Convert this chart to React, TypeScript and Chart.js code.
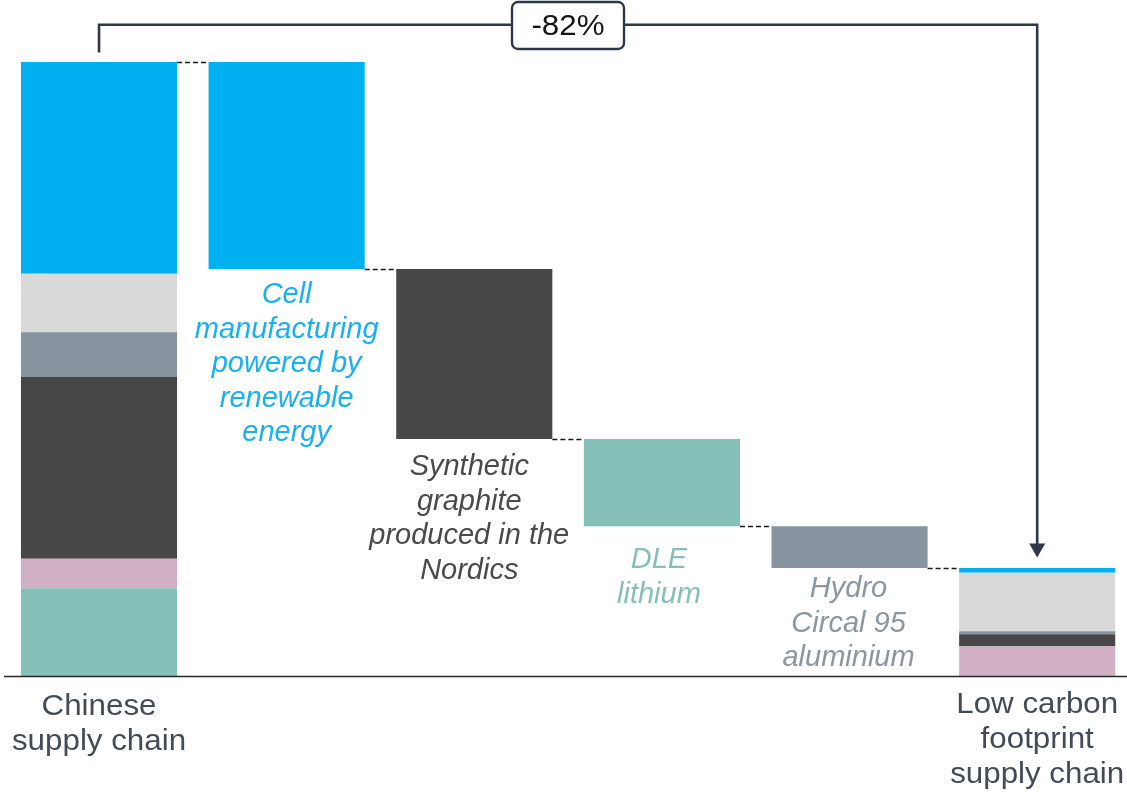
import React, { useEffect, useRef } from "react";
import { Chart, registerables } from "chart.js";

Chart.register(...registerables);

// ---- Data ----
const categories = [
  "Chinese supply chain",
  "Cell manufacturing powered by renewable energy",
  "Synthetic graphite produced in the Nordics",
  "DLE lithium",
  "Hydro Circal 95 aluminium",
  "Low carbon footprint supply chain",
];

const components = [
  "Lithium",
  "Other materials",
  "Graphite",
  "Aluminium",
  "Other components",
  "Cell manufacturing",
];

const componentColors = ["#84BFB8", "#D1AFC4", "#474747", "#87939F", "#D9D9D9", "#00B0F0"];

// stacked from bottom to top (share of Chinese supply chain footprint, %)
const chineseStack = [14.3, 4.8, 29.6, 7.3, 9.5, 34.5];
const lowCarbonStack = [0.1, 4.8, 1.9, 0.5, 9.5, 0.8];

// waterfall steps: component index reduced and reduction amount
const stepComponent = [5, 2, 0, 3];
const stepReduction = [33.7, 27.7, 14.2, 6.8];

const categoryLabelLines = [
  ["Chinese", "supply chain"],
  [],
  [],
  [],
  [],
  ["Low carbon", "footprint", "supply chain"],
];

const stepLabelLines = [
  ["Cell", "manufacturing", "powered by", "renewable", "energy"],
  ["Synthetic", "graphite", "produced in the", "Nordics"],
  ["DLE", "lithium"],
  ["Hydro", "Circal 95", "aluminium"],
];

const stepLabelColors = ["#1AAFEE", "#4A4A4A", "#86BFB8", "#8A96A1"];

const changeLabel = "-82%";

const Y_MAX = 110.1;

// ---- Build datasets ----
function buildDatasets() {
  const n = categories.length;
  const datasets = components.map((name, i) => ({
    label: name,
    data: new Array(n).fill(null) as any[],
    backgroundColor: componentColors[i],
    borderWidth: 0,
    grouped: false,
    categoryPercentage: 1,
    barPercentage: 0.832,
  }));
  let cum = 0;
  chineseStack.forEach((v, i) => {
    datasets[i].data[0] = [cum, cum + v];
    cum += v;
  });
  let running = cum;
  stepComponent.forEach((ci, k) => {
    datasets[ci].data[k + 1] = [running - stepReduction[k], running];
    running -= stepReduction[k];
  });
  let cum2 = 0;
  lowCarbonStack.forEach((v, i) => {
    datasets[i].data[n - 1] = [cum2, cum2 + v];
    cum2 += v;
  });
  return datasets;
}

function levels() {
  const total = chineseStack.reduce((a, b) => a + b, 0);
  const lv = [total];
  let r = total;
  stepReduction.forEach((s) => {
    r -= s;
    lv.push(r);
  });
  return lv;
}

const FONT = '"Liberation Sans", Arial, Helvetica, sans-serif';

const overlayPlugin = {
  id: "overlay",
  afterDraw(chart: any) {
    const ctx: CanvasRenderingContext2D = chart.ctx;
    const xs = chart.scales.x;
    const ys = chart.scales.y;
    const meta = chart.getDatasetMeta(0);
    const barW = meta.data[0] ? meta.data[0].width : 156;
    const lv = levels();
    const n = categories.length;

    ctx.save();

    // baseline
    ctx.strokeStyle = "#262626";
    ctx.lineWidth = 1.5;
    ctx.beginPath();
    ctx.moveTo(4, ys.getPixelForValue(0) + 0.5);
    ctx.lineTo(chart.width, ys.getPixelForValue(0) + 0.5);
    ctx.stroke();

    // dashed connectors
    ctx.strokeStyle = "#1a1a1a";
    ctx.lineWidth = 1.4;
    ctx.setLineDash([5, 3]);
    for (let j = 0; j < n - 1; j++) {
      const y = Math.round(ys.getPixelForValue(lv[j])) + 0.5;
      const x1 = xs.getPixelForValue(j) + barW / 2;
      const x2 = xs.getPixelForValue(j + 1) - barW / 2;
      ctx.beginPath();
      ctx.moveTo(x1, y);
      ctx.lineTo(x2, y);
      ctx.stroke();
    }
    ctx.setLineDash([]);

    // step labels (italic)
    const gaps = [34, 36, 42, 29];
    const dx = [0, -5, -3, -1];
    ctx.font = `italic 29px ${FONT}`;
    ctx.textAlign = "center";
    ctx.textBaseline = "alphabetic";
    stepLabelLines.forEach((lines, k) => {
      const cx = xs.getPixelForValue(k + 1) + dx[k];
      const yb = ys.getPixelForValue(lv[k + 1]) + gaps[k];
      ctx.fillStyle = stepLabelColors[k];
      lines.forEach((t, li) => ctx.fillText(t, cx, yb + li * 34.6));
    });

    // category labels (upright)
    const catBase = [715, 0, 0, 0, 0, 713];
    ctx.font = `29px ${FONT}`;
    ctx.fillStyle = "#434C56";
    categoryLabelLines.forEach((lines, j) => {
      const cx = xs.getPixelForValue(j);
      lines.forEach((t, li) => {
        ctx.save();
        ctx.translate(cx, catBase[j] + li * 35);
        ctx.scale(1.08, 1);
        ctx.fillText(t, 0, 0);
        ctx.restore();
      });
    });

    // bracket
    const xa = xs.getPixelForValue(0);
    const xb = xs.getPixelForValue(n - 1);
    const topY = 24.7;
    const endTotal = lowCarbonStack.reduce((a, b) => a + b, 0);
    const tipY = ys.getPixelForValue(endTotal) - 10.5;
    ctx.strokeStyle = "#2E3849";
    ctx.fillStyle = "#2E3849";
    ctx.lineWidth = 2.6;
    ctx.lineJoin = "miter";
    ctx.beginPath();
    ctx.moveTo(xa, ys.getPixelForValue(lv[0]) - 9.5);
    ctx.lineTo(xa, topY);
    ctx.lineTo(xb, topY);
    ctx.lineTo(xb, tipY - 12);
    ctx.stroke();
    ctx.beginPath();
    ctx.moveTo(xb - 8, tipY - 14);
    ctx.lineTo(xb + 8, tipY - 14);
    ctx.lineTo(xb, tipY);
    ctx.closePath();
    ctx.fill();

    // change box
    const bx = 512, by = 2, bw = 112, bh = 47, r = 6;
    ctx.beginPath();
    ctx.moveTo(bx + r, by);
    ctx.lineTo(bx + bw - r, by);
    ctx.arcTo(bx + bw, by, bx + bw, by + r, r);
    ctx.lineTo(bx + bw, by + bh - r);
    ctx.arcTo(bx + bw, by + bh, bx + bw - r, by + bh, r);
    ctx.lineTo(bx + r, by + bh);
    ctx.arcTo(bx, by + bh, bx, by + bh - r, r);
    ctx.lineTo(bx, by + r);
    ctx.arcTo(bx, by, bx + r, by, r);
    ctx.closePath();
    ctx.fillStyle = "#FFFFFF";
    ctx.fill();
    ctx.lineWidth = 2.4;
    ctx.strokeStyle = "#2E3849";
    ctx.stroke();

    ctx.fillStyle = "#151515";
    ctx.font = `29px ${FONT}`;
    ctx.save();
    ctx.translate(bx + bw / 2, 35);
    ctx.scale(1.08, 1);
    ctx.fillText(changeLabel, 0, 0);
    ctx.restore();

    ctx.restore();
  },
};

export default function App() {
  const ref = useRef<HTMLCanvasElement | null>(null);

  useEffect(() => {
    if (!ref.current) return;
    const chart = new Chart(ref.current, {
      type: "bar",
      data: {
        labels: categories,
        datasets: buildDatasets() as any,
      },
      options: {
        animation: false,
        responsive: false,
        maintainAspectRatio: false,
        devicePixelRatio: 1,
        layout: { padding: { left: 5.2, right: 0, top: 0, bottom: 118 } },
        plugins: {
          legend: { display: false },
          tooltip: { enabled: false },
          title: { display: false },
        },
        scales: {
          x: { type: "category", display: false, grid: { display: false } },
          y: { display: false, min: 0, max: Y_MAX, grid: { display: false } },
        },
      },
      plugins: [overlayPlugin],
    });
    return () => chart.destroy();
  }, []);

  return (
    <div
      style={{
        position: "absolute",
        left: 0,
        top: 0,
        width: 1127,
        height: 794,
        overflow: "hidden",
        background: "#FFFFFF",
      }}
    >
      <canvas ref={ref} width={1131} height={794} style={{ width: 1131, height: 794, display: "block" }} />
    </div>
  );
}
